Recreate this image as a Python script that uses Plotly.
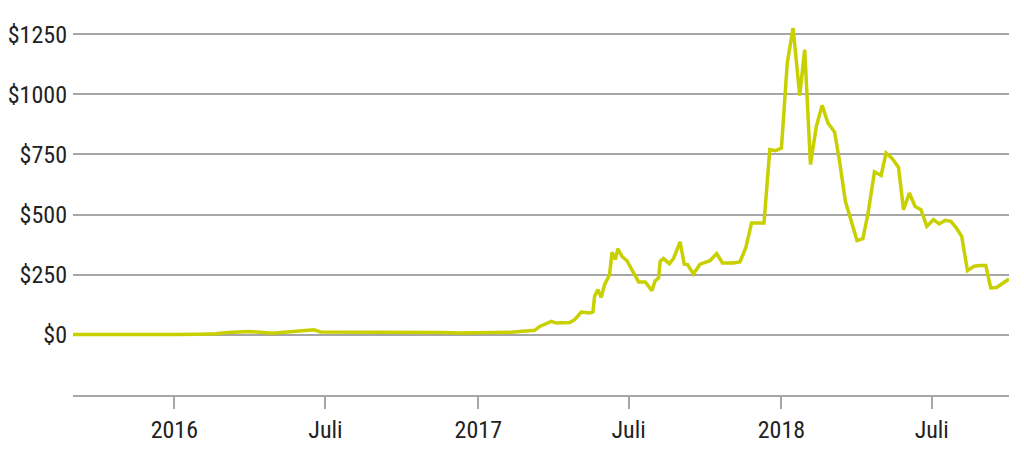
import plotly.graph_objects as go

# Weekly-ish price points (USD)
dates = [
    '2015-09-01', '2015-10-01', '2015-11-01', '2015-12-01', '2016-01-01',
    '2016-02-01', '2016-02-20', '2016-03-05', '2016-03-15', '2016-04-01',
    '2016-04-28', '2016-05-19', '2016-06-17', '2016-06-25', '2016-07-20',
    '2016-08-20', '2016-09-20', '2016-10-20', '2016-11-20', '2016-12-10',
    '2016-12-30', '2017-01-20', '2017-02-10', '2017-02-20', '2017-03-04',
    '2017-03-10', '2017-03-16', '2017-03-30', '2017-04-05', '2017-04-12',
    '2017-04-21', '2017-04-27', '2017-05-05', '2017-05-15', '2017-05-19',
    '2017-05-21', '2017-05-25', '2017-05-29', '2017-06-02', '2017-06-08',
    '2017-06-11', '2017-06-15', '2017-06-18', '2017-06-23', '2017-06-29',
    '2017-07-06', '2017-07-13', '2017-07-21', '2017-07-29', '2017-08-02',
    '2017-08-06', '2017-08-08', '2017-08-12', '2017-08-19', '2017-08-24',
    '2017-09-01', '2017-09-06', '2017-09-10', '2017-09-17', '2017-09-25',
    '2017-10-07', '2017-10-15', '2017-10-22', '2017-11-04', '2017-11-12',
    '2017-11-19', '2017-11-26', '2017-12-11', '2017-12-18', '2017-12-25',
    '2018-01-01', '2018-01-08', '2018-01-15', '2018-01-23', '2018-01-29',
    '2018-02-05', '2018-02-12', '2018-02-19', '2018-02-26', '2018-03-06',
    '2018-03-12', '2018-03-19', '2018-03-26', '2018-04-02', '2018-04-09',
    '2018-04-15', '2018-04-23', '2018-05-01', '2018-05-07', '2018-05-14',
    '2018-05-22', '2018-05-28', '2018-06-04', '2018-06-11', '2018-06-18',
    '2018-06-25', '2018-07-03', '2018-07-10', '2018-07-17', '2018-07-24',
    '2018-07-30', '2018-08-06', '2018-08-13', '2018-08-21', '2018-08-28',
    '2018-09-04', '2018-09-10', '2018-09-17', '2018-10-02',
]
prices = [
    1.3, 0.6, 0.9, 0.9, 1,
    2.3, 4.5, 10, 12, 14,
    7, 14, 21, 12, 12,
    11, 13, 12, 10, 8,
    8, 10, 11, 14, 19,
    19, 35, 56, 49, 51,
    51, 63, 95, 91, 95,
    160, 188, 156, 209, 250,
    344, 313, 358, 326, 308,
    264, 220, 220, 184, 225,
    236, 306, 317, 296, 317,
    387, 294, 292, 253, 294,
    308, 338, 299, 299, 303,
    361, 465, 465, 770, 766,
    777, 1130, 1276, 995, 1186,
    708, 867, 954, 881, 843,
    721, 555, 472, 392, 400,
    500, 677, 663, 756, 735,
    696, 520, 590, 534, 520,
    451, 479, 461, 476, 472,
    447, 410, 267, 285, 288,
    288, 195, 197, 232,
]

x_ticks = ['2016-01-01', '2016-07-01', '2017-01-01', '2017-07-01', '2018-01-01', '2018-07-01']
x_labels = ['2016', 'Juli', '2017', 'Juli', '2018', 'Juli']
y_ticks = [0, 250, 500, 750, 1000, 1250]
y_labels = ['$0', '$250', '$500', '$750', '$1000', '$1250']

font = 'Roboto Condensed, Roboto, sans-serif'

fig = go.Figure(go.Scatter(
    x=dates,
    y=prices,
    mode='lines',
    line=dict(color='#c8d000', width=3.5),
    hoverinfo='skip',
))

fig.update_layout(
    width=1024,
    height=455,
    margin=dict(l=73, r=15, t=20, b=60),
    paper_bgcolor='white',
    plot_bgcolor='white',
    showlegend=False,
    font=dict(family=font, size=24, color='#222222'),
)
fig.update_xaxes(
    type='date',
    range=['2015-09-01', '2018-10-02'],
    tickvals=x_ticks,
    ticktext=x_labels,
    showgrid=False,
    zeroline=False,
    showline=True,
    linecolor='#a6a6a6',
    linewidth=2,
    ticks='outside',
    ticklen=12,
    tickwidth=2,
    tickcolor='#a6a6a6',
    automargin=False,
)
fig.update_yaxes(
    range=[-250, 1309],
    tickvals=y_ticks,
    ticktext=y_labels,
    showgrid=True,
    gridcolor='#a6a6a6',
    gridwidth=2,
    zeroline=False,
    showline=False,
    ticks='',
    ticklabelstandoff=5,
    automargin=False,
)

# drop the page's default body margin so the figure sits at 0,0
fig.write_html('out.html', config={'displayModeBar': False},
               post_script="document.body.style.margin='0';")
